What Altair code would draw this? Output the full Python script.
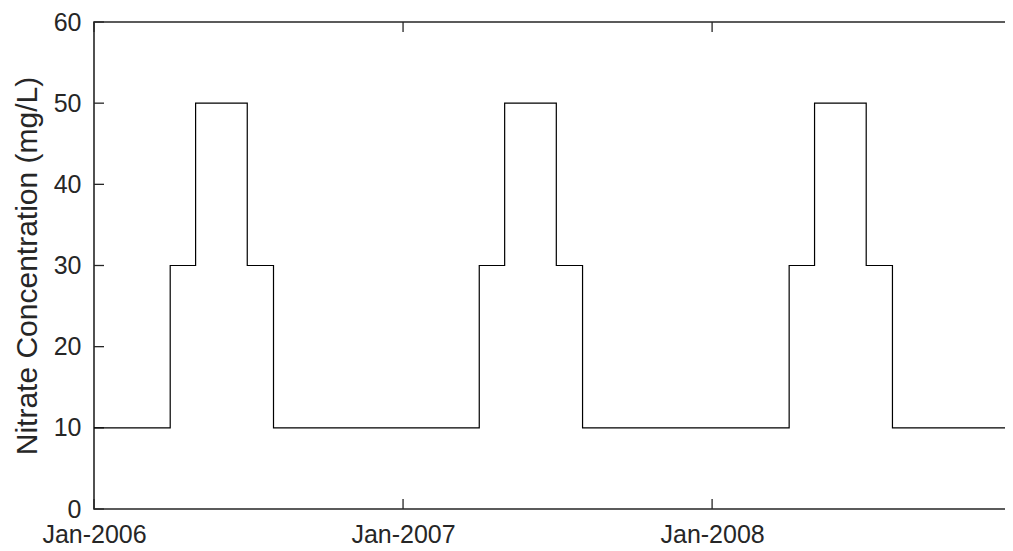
import altair as alt
import pandas as pd

# Step changes in nitrate concentration (value holds from the date until the next change)
change_dates = [
    "2006-01-01", "2006-04-01", "2006-05-01", "2006-07-01", "2006-08-01",
    "2007-04-01", "2007-05-01", "2007-07-01", "2007-08-01",
    "2008-04-01", "2008-05-01", "2008-07-01", "2008-08-01",
    "2009-01-01",
]
nitrate = [10, 30, 50, 30, 10, 30, 50, 30, 10, 30, 50, 30, 10, 10]

x_ticks = ["2006-01-01", "2007-01-01", "2008-01-01", "2009-01-01"]
y_ticks = [0, 10, 20, 30, 40, 50, 60]
x_domain = ["2006-01-01", "2009-01-01"]

W, H = 928, 487
FONT = "Liberation Sans"
AX = "#262626"

df = pd.DataFrame({"date": change_dates, "value": nitrate})
df_xt = pd.DataFrame({"date": x_ticks})
df_yt = pd.DataFrame({"v": y_ticks})

xscale = alt.Scale(type="utc", domain=x_domain, nice=False)
yscale = alt.Scale(domain=[0, 60], nice=False)

def tdt(s):
    y, m, d = (int(p) for p in s.split("-"))
    return alt.DateTime(year=y, month=m, date=d, utc=True)

line = alt.Chart(df).mark_line(interpolate="step-after", color="#000000", strokeWidth=1.2).encode(
    x=alt.X("date:T", scale=xscale,
            axis=alt.Axis(values=[tdt(s) for s in x_ticks[:3]],
                          labelExpr="utcFormat(datum.value, '%b-%Y')",
                          title=None, domain=False, ticks=False, grid=False,
                          labelPadding=33, labelBaseline="alphabetic",
                          labelFontSize=25, labelFont=FONT, labelColor=AX,
                          labelFlush=False)),
    y=alt.Y("value:Q", scale=yscale,
            axis=alt.Axis(values=y_ticks, title="Nitrate Concentration (mg/L)",
                          domain=False, ticks=False, grid=False,
                          labelPadding=13, labelFontSize=25, labelFont=FONT, labelColor=AX,
                          titleFontSize=30, titleFont=FONT, titleColor=AX, titleFontWeight="normal",
                          titleAngle=270, titleX=-58, titleY=H / 2, titleAlign="center",
                          titleBaseline="alphabetic")),
)

tick_len = 10
xt_bottom = alt.Chart(df_xt).mark_rule(color=AX, strokeWidth=1.3).encode(
    x=alt.X("date:T", scale=xscale), y=alt.value(H), y2=alt.value(H - tick_len))
xt_top = alt.Chart(df_xt).mark_rule(color=AX, strokeWidth=1.3).encode(
    x=alt.X("date:T", scale=xscale), y=alt.value(0), y2=alt.value(tick_len))
yt_left = alt.Chart(df_yt).mark_rule(color=AX, strokeWidth=1.3).encode(
    y=alt.Y("v:Q", scale=yscale), x=alt.value(0), x2=alt.value(tick_len))
yt_right = alt.Chart(df_yt).mark_rule(color=AX, strokeWidth=1.3).encode(
    y=alt.Y("v:Q", scale=yscale), x=alt.value(W - tick_len), x2=alt.value(W))

# The reference is cropped on the right: the plot box runs past the image edge.
chart = alt.layer(xt_bottom, xt_top, yt_left, yt_right, line).properties(
    width=W, height=H,
    autosize=alt.AutoSizeParams(type="none"),
    padding={"left": 86, "top": 14, "right": -17, "bottom": 34},
).configure_view(stroke=AX, strokeWidth=1.6)

chart.save("out.html", embed_options={"renderer": "svg", "actions": False})
